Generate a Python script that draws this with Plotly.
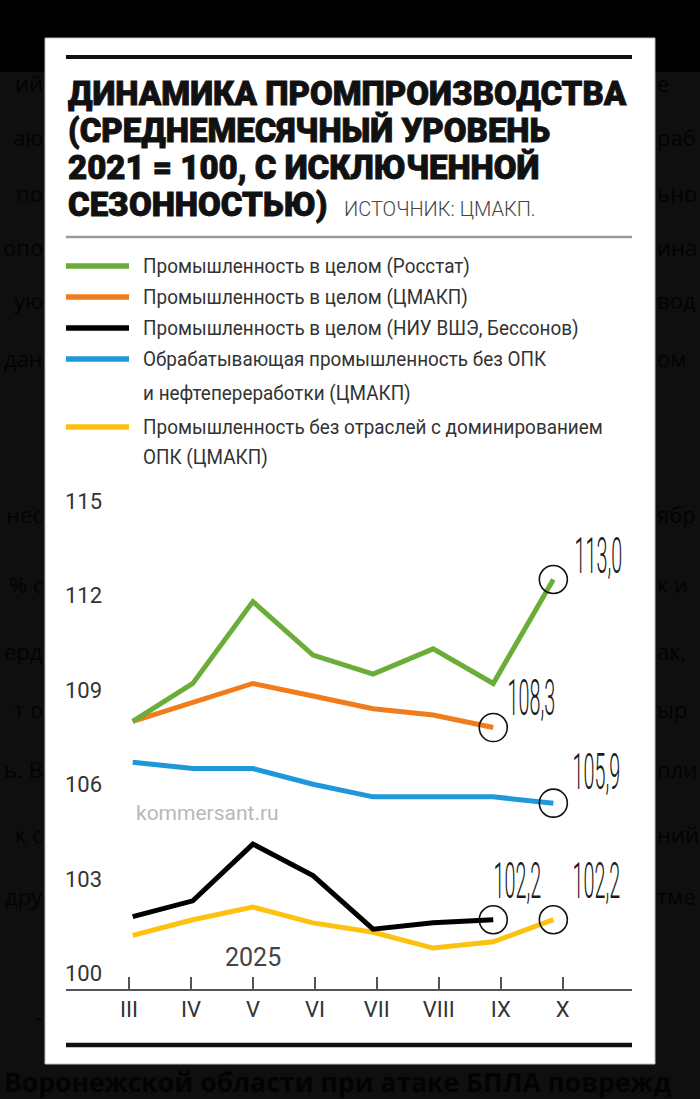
import json
import plotly.graph_objects as go

W, H = 700, 1099

# ---------------- data ----------------
months = ["III", "IV", "V", "VI", "VII", "VIII", "IX", "X"]
rosstat = [108.5, 109.7, 112.3, 110.6, 110.0, 110.8, 109.7, 113.0]
cmakp_total = [108.5, 109.1, 109.7, 109.3, 108.9, 108.7, 108.3]
hse_total = [102.3, 102.8, 104.6, 103.6, 101.9, 102.1, 102.2]
manuf_ex = [107.2, 107.0, 107.0, 106.5, 106.1, 106.1, 106.1, 105.9]
no_defence = [101.7, 102.2, 102.6, 102.1, 101.8, 101.3, 101.5, 102.2]
y_ticks = [100, 103, 106, 109, 112, 115]
year_label = "2025"

legend_rosstat = ["Промышленность в целом (Росстат)"]
legend_cmakp = ["Промышленность в целом (ЦМАКП)"]
legend_hse = ["Промышленность в целом (НИУ ВШЭ, Бессонов)"]
legend_manuf = ["Обрабатывающая промышленность без ОПК", "и нефтепереработки (ЦМАКП)"]
legend_nodef = ["Промышленность без отраслей с доминированием", "ОПК (ЦМАКП)"]

title_lines = ["ДИНАМИКА ПРОМПРОИЗВОДСТВА", "(СРЕДНЕМЕСЯЧНЫЙ УРОВЕНЬ",
               "2021 = 100, С ИСКЛЮЧЕННОЙ", "СЕЗОННОСТЬЮ)"]
source_text = "ИСТОЧНИК: ЦМАКП."
watermark = "kommersant.ru"

GREEN, ORANGE, BLACK, BLUE, YELLOW = "#6aad38", "#f07c1c", "#000000", "#1f98d9", "#fdc20f"

SANS = "Roboto, Liberation Sans, Arial, sans-serif"
BG_FONT = "Open Sans, Noto Sans, sans-serif"


def fx(px):
    return px / W


def fy(py):
    return 1 - py / H


# series: values, colour, label offset (dx, dy in px from the end point)
series = [
    (no_defence, YELLOW, (43, -39)),
    (hse_total, BLACK, (24, -39)),
    (manuf_ex, BLUE, (43, -31)),
    (cmakp_total, ORANGE, (38, -30)),
    (rosstat, GREEN, (45, -24)),
]

fig = go.Figure()

for vals, col, _ in series:
    fig.add_trace(go.Scatter(
        x=months[:len(vals)], y=vals, mode="lines",
        line=dict(color=col, width=5), showlegend=False, hoverinfo="skip",
    ))

for vals, col, _ in series:
    fig.add_trace(go.Scatter(
        x=[months[len(vals) - 1]], y=[vals[-1]], mode="markers",
        marker=dict(symbol="circle-open", size=28, color="#111111",
                    line=dict(width=1.6, color="#111111")),
        showlegend=False, hoverinfo="skip",
    ))

# tick axis (labels III..X)
fig.add_trace(go.Scatter(x=[0], y=[None], xaxis="x2", yaxis="y",
                         mode="markers", showlegend=False, hoverinfo="skip"))

annotations = []
condense = {}   # text -> [scale x, scale y, anchor]

# value labels at series ends (condensed in post_script)
for vals, col, (dx, dy) in series:
    lbl = f"{vals[-1]:.1f}".replace(".", ",")
    condense[lbl] = [0.43, 1.08, "center"]
    annotations.append(dict(
        x=months[len(vals) - 1], y=vals[-1], xref="x", yref="y",
        text=lbl, showarrow=False,
        xanchor="center", yanchor="middle", xshift=dx, yshift=-dy,
        font=dict(family=SANS, size=46, color="#1a1a1a", weight=300),
    ))

# title, one annotation per line
for line, yy in zip(title_lines, [93, 130, 167, 204]):
    annotations.append(dict(
        x=fx(66), y=fy(yy), xref="paper", yref="paper", xanchor="left", yanchor="middle",
        text=line, showarrow=False, align="left",
        font=dict(family=SANS, size=33, color="#111111", weight=900),
    ))
annotations.append(dict(
    x=fx(342), y=fy(209), xref="paper", yref="paper", xanchor="left", yanchor="middle",
    text=source_text, showarrow=False,
    font=dict(family=SANS, size=20, color="#444444", weight=300),
))

# legend (custom, long line samples)
legend_rows = [
    (legend_rosstat, GREEN, [266]),
    (legend_cmakp, ORANGE, [297]),
    (legend_hse, BLACK, [328]),
    (legend_manuf, BLUE, [359, 393]),
    (legend_nodef, YELLOW, [427, 457]),
]
shapes = []
shapes.append(dict(type="rect", xref="paper", yref="paper", x0=0, x1=1, y0=fy(72), y1=1,
                   fillcolor="#000000", line=dict(width=0), layer="below"))
shapes.append(dict(type="rect", xref="paper", yref="paper", x0=fx(45), x1=fx(655),
                   y0=fy(1064), y1=fy(38), fillcolor="#ffffff",
                   line=dict(width=1, color="#bdbdbd"), layer="below"))
shapes.append(dict(type="line", xref="paper", yref="paper", x0=fx(66), x1=fx(632),
                   y0=fy(57), y1=fy(57), line=dict(color="#111111", width=4)))
shapes.append(dict(type="line", xref="paper", yref="paper", x0=fx(66), x1=fx(632),
                   y0=fy(237), y1=fy(237), line=dict(color="#9a9a9a", width=2.5)))
shapes.append(dict(type="line", xref="paper", yref="paper", x0=fx(66), x1=fx(632),
                   y0=fy(1045), y1=fy(1045), line=dict(color="#111111", width=4.5)))

for lines, col, ys in legend_rows:
    shapes.append(dict(type="line", xref="paper", yref="paper", x0=fx(66), x1=fx(129),
                       y0=fy(ys[0]), y1=fy(ys[0]), line=dict(color=col, width=5.5)))
    for txt, yy in zip(lines, ys):
        condense[txt] = [0.9, 1.0, "left"]
        annotations.append(dict(
            x=fx(141), y=fy(yy), xref="paper", yref="paper", xanchor="left", yanchor="middle",
            text=txt, showarrow=False,
            font=dict(family=SANS, size=21, color="#333333"),
        ))

# watermark and year
annotations.append(dict(
    x=fx(207), y=fy(813), xref="paper", yref="paper", xanchor="center", yanchor="middle",
    text=watermark, showarrow=False, font=dict(family=SANS, size=21, color="#b8b8b8"),
))
annotations.append(dict(
    x=months[2], y=101.0, xref="x", yref="y", xanchor="center", yanchor="middle",
    text=year_label, showarrow=False, font=dict(family=SANS, size=25, color="#444444"),
))

# dim article text around the card
BGT = "#030303"
left_frag = [("ий", 83), ("аю", 137), ("по", 193), ("опо", 247), ("ую", 300), ("дан", 358),
             ("нес", 514), ("% с", 584), ("ерд", 651), ("т о", 709), ("ь. В", 769),
             ("к с", 834), ("дру", 896), ("-", 1016)]
right_frag = [("е", 83), ("раб", 137), ("ьно", 193), ("ина", 247), ("вод", 300), ("ом", 358),
              ("ябр", 514), ("к и", 584), ("ак,", 651), ("ыр", 709), ("пли", 769),
              ("ний", 834), ("тме", 896)]
for t, yy in left_frag:
    annotations.append(dict(x=fx(45), y=fy(yy), xref="paper", yref="paper", xanchor="right",
                            yanchor="middle", text=t, showarrow=False,
                            font=dict(family=BG_FONT, size=22, color=BGT)))
for t, yy in right_frag:
    annotations.append(dict(x=fx(655), y=fy(yy), xref="paper", yref="paper", xanchor="left",
                            yanchor="middle", text=t, showarrow=False,
                            font=dict(family=BG_FONT, size=22, color=BGT)))
annotations.append(dict(x=fx(2), y=fy(1082), xref="paper", yref="paper", xanchor="left",
                        yanchor="middle", text="Воронежской области при атаке БПЛА поврежд",
                        showarrow=False,
                        font=dict(family=BG_FONT, size=26.5, color=BGT, weight=700)))

fig.update_layout(
    width=W, height=H, margin=dict(l=0, r=0, t=0, b=0),
    paper_bgcolor="#0f0f0f", plot_bgcolor="rgba(0,0,0,0)",
    showlegend=False, shapes=shapes, annotations=annotations,
    xaxis=dict(domain=[fx(66), fx(632)], type="category", categoryarray=months,
               range=[-1.110, 8.309], visible=False, fixedrange=True),
    xaxis2=dict(overlaying="x", anchor="y", side="bottom", type="linear",
                range=[-1.017, 8.118], tickvals=list(range(len(months))), ticktext=months,
                ticks="inside", ticklen=12, tickwidth=1.5, tickcolor="#555555",
                showline=True, linecolor="#555555", linewidth=2,
                showgrid=False, zeroline=False,
                tickfont=dict(family=SANS, size=22, color="#333333")),
    yaxis=dict(domain=[fy(989), fy(480)], range=[100, 116.16],
               anchor="free", position=fx(61),
               tickvals=y_ticks, ticktext=[str(v) for v in y_ticks],
               ticklabelposition="inside top", ticks="", showgrid=False,
               zeroline=False, showline=False,
               tickfont=dict(family=SANS, size=22, color="#333333")),
)

post = """
document.body.style.margin = '0';
document.body.style.background = '#0f0f0f';
var gd = document.getElementById('{plot_id}');
var C = __COND__;
var T = __TITLE__;
gd.querySelectorAll('text.annotation-text').forEach(function (t) {
  var k = t.textContent;
  if (C.hasOwnProperty(k)) {
    var c = C[k];
    var b = t.getBBox();
    var ax = c[2] === 'left' ? b.x : b.x + b.width / 2;
    var ay = b.y + b.height / 2;
    t.setAttribute('transform', 'translate(' + ax + ',' + ay + ') scale(' + c[0] + ',' + c[1] + ') translate(' + (-ax) + ',' + (-ay) + ')');
  }
  if (T.indexOf(k) >= 0) {
    t.style.stroke = '#111111';
    t.style.strokeWidth = '0.9px';
  }
});
""".replace("__COND__", json.dumps(condense, ensure_ascii=False)).replace(
    "__TITLE__", json.dumps(title_lines, ensure_ascii=False))

fig.write_html("out.html", post_script=post, config={"displayModeBar": False})
